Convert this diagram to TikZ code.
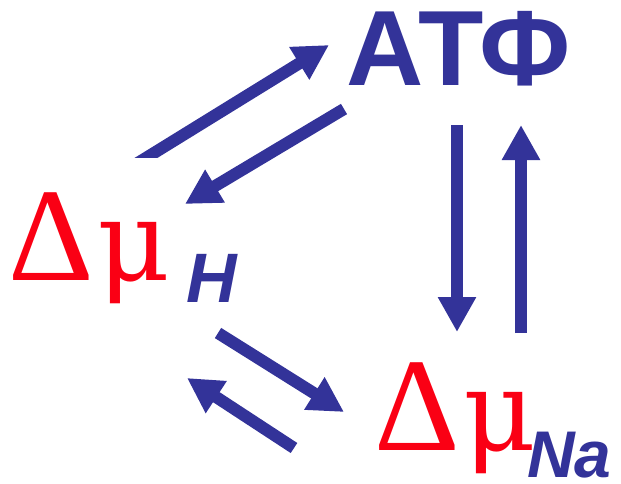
\documentclass[tikz,border=0pt]{standalone}
\usepackage{fontspec}
\usetikzlibrary{arrows.meta}
\newfontfamily\labelfont{Liberation Sans}
\newfontfamily\greekfont{Liberation Serif}
\newfontfamily\mufont{DejaVu Serif}
\newcommand{\dmu}{Δ\hspace{4pt}{\mufont\fontsize{112}{112}\selectfont μ}}
\definecolor{atblue}{RGB}{51,51,153}
\definecolor{mured}{RGB}{250,0,20}
\tikzset{
    flow/.style={draw=atblue, line width=12pt, -{Triangle[length=35pt,width=36pt]}},
    big/.style={inner sep=0pt, anchor=base west, text=atblue, font=\labelfont\bfseries\fontsize{107}{107}\selectfont},
    mu/.style={inner sep=0pt, anchor=base west, text=mured, font=\greekfont\fontsize{133}{133}\selectfont},
    sub/.style={inner sep=0pt, anchor=base west, text=atblue, font=\labelfont\bfseries\itshape\fontsize{70}{70}\selectfont}
}
\begin{document}
\begin{tikzpicture}[x=1pt, y=-1pt]
    \useasboundingbox (0,0) rectangle (621,483);

    % Labels
    \node[big] (atf) at (346,85) {АТФ};
    \node[mu] (dmuH) at (8,280) {\dmu};
    \node[sub] (subH) at (186,302) {H};
    \node[mu] (dmuNa) at (374,450) {\dmu};
    \node[sub, font=\labelfont\bfseries\itshape\fontsize{66}{66}\selectfont] (subNa) at (527,477) {Na};

    % Arrow ends
    \coordinate (hA) at (134.5,165);
    \coordinate (aT) at (329,45);
    \coordinate (aS) at (344,109);
    \coordinate (hT) at (185,204);
    \coordinate (aD) at (457,125);
    \coordinate (nU) at (457,332);
    \coordinate (nD) at (521,333);
    \coordinate (aU) at (521,125);
    \coordinate (hS) at (218,333);
    \coordinate (nT) at (344,412);
    \coordinate (nS) at (294,448);
    \coordinate (hU) at (187,378);

    % H <-> ATP
    \begin{scope}
        \clip (0,0) rectangle (621,157);
        \draw[flow] (hA) -- (aT);
    \end{scope}
    \draw[flow] (aS) -- (hT);

    % ATP <-> Na
    \draw[flow] (aD) -- (nU);
    \draw[flow] (nD) -- (aU);

    % H <-> Na
    \draw[flow] (hS) -- (nT);
    \draw[flow] (nS) -- (hU);
\end{tikzpicture}
\end{document}
